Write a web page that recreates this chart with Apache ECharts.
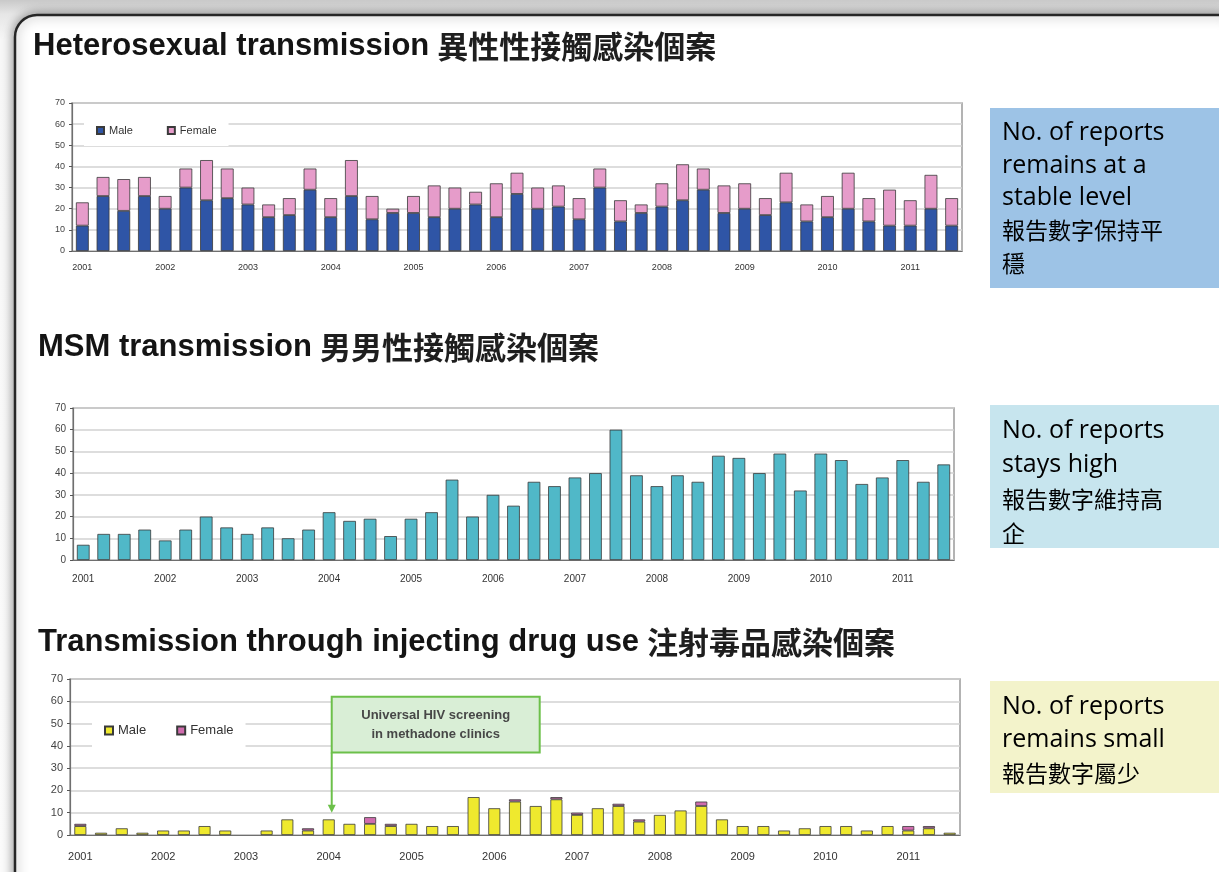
<!DOCTYPE html>
<html>
<head>
<meta charset="utf-8">
<title>HIV reports by route of transmission</title>
<script src="https://cdn.jsdelivr.net/npm/echarts@6/dist/echarts.min.js"></script>
<style>
  html, body { margin: 0; padding: 0; }
  body { background: linear-gradient(to bottom, #c9c9c9 0, #e6e6e6 14px, #f7f7f7 40px, #fbfbfb 100%); }
  #chart { width: 1219px; height: 872px; }
</style>
</head>
<body>
<div id="chart"></div>
<script>
// quarterly categories, 2001 Q1 .. 2011 Q3
const quarters = [
  '2001 Q1', '2001 Q2', '2001 Q3', '2001 Q4', '2002 Q1', '2002 Q2', '2002 Q3', '2002 Q4',
  '2003 Q1', '2003 Q2', '2003 Q3', '2003 Q4', '2004 Q1', '2004 Q2', '2004 Q3', '2004 Q4',
  '2005 Q1', '2005 Q2', '2005 Q3', '2005 Q4', '2006 Q1', '2006 Q2', '2006 Q3', '2006 Q4',
  '2007 Q1', '2007 Q2', '2007 Q3', '2007 Q4', '2008 Q1', '2008 Q2', '2008 Q3', '2008 Q4',
  '2009 Q1', '2009 Q2', '2009 Q3', '2009 Q4', '2010 Q1', '2010 Q2', '2010 Q3', '2010 Q4',
  '2011 Q1', '2011 Q2', '2011 Q3'
];

const heteroMale = [12, 26, 19, 26, 20, 30, 24, 25, 22, 16, 17, 29, 16, 26, 15, 18, 18, 16, 20, 22, 16, 27,
  20, 21, 15, 30, 14, 18, 21, 24, 29, 18, 20, 17, 23, 14, 16, 20, 14, 12, 12, 20, 12];
const heteroFemale = [11, 9, 15, 9, 6, 9, 19, 14, 8, 6, 8, 10, 9, 17, 11, 2, 8, 15, 10, 6, 16, 10,
  10, 10, 10, 9, 10, 4, 11, 17, 10, 13, 12, 8, 14, 8, 10, 17, 11, 17, 12, 16, 13];

const msm = [7, 12, 12, 14, 9, 14, 20, 15, 12, 15, 10, 14, 22, 18, 19, 11, 19, 22, 37, 20, 30, 25,
  36, 34, 38, 40, 60, 39, 34, 39, 36, 48, 47, 40, 49, 32, 49, 46, 35, 38, 46, 36, 44];

const iduMale = [4, 1, 3, 1, 2, 2, 4, 2, 0, 2, 7, 2, 7, 5, 5, 4, 5, 4, 4, 17, 12, 15,
  13, 16, 9, 12, 13, 6, 9, 11, 13, 7, 4, 4, 2, 3, 4, 4, 2, 4, 2, 3, 1];
const iduFemale = [1, 0, 0, 0, 0, 0, 0, 0, 0, 0, 0, 1, 0, 0, 3, 1, 0, 0, 0, 0, 0, 1,
  0, 1, 1, 0, 1, 1, 0, 0, 2, 0, 0, 0, 0, 0, 0, 0, 0, 0, 2, 1, 0];

// callout in the drug-use panel (anchored on axis values)
const calloutText = 'Universal HIV screening\nin methadone clinics';
const calloutFrom = '2004 Q1';
const calloutTo = '2006 Q3';
const calloutTop = 62;
const calloutBottom = 37;
const calloutTip = 10;

const legendNames = {
  'Hetero male': 'Male', 'Hetero female': 'Female',
  'IDU male': 'Male', 'IDU female': 'Female'
};

const titleRich = (en, zh) => ({
  text: '{en|' + en + '} {zh|' + zh + '}',
  textStyle: {
    rich: {
      en: { fontSize: 31, fontWeight: 'bold', color: '#141414', fontFamily: 'Liberation Sans' },
      zh: { fontSize: 31, color: '#1e1e1e', fontFamily: 'Noto Sans CJK TC', padding: [0, 0, 0, 3] }
    }
  }
});

const sideBox = (x, y, w, h, fill, enLines, zhLines, lineH) => ({
  type: 'group',
  children: [
    { type: 'rect', shape: { x: x, y: y, width: w, height: h }, style: { fill: fill } },
    {
      type: 'text', x: x + 12, y: y + 9,
      style: {
        text: enLines.map(l => '{en|' + l + '}').concat(zhLines.map(l => '{zh|' + l + '}')).join('\n'),
        rich: {
          en: { fontSize: 25, color: '#1c1c1c', fontFamily: 'Open Sans', lineHeight: lineH },
          zh: { fontSize: 23, color: '#5a5a5a', fontFamily: 'Noto Sans CJK TC', lineHeight: lineH }
        }
      }
    }
  ]
});

const panelFont = [9, 10, 11];
const grids = [
  { left: 72, top: 103, width: 890, height: 148 },
  { left: 73, top: 408, width: 881, height: 152 },
  { left: 70, top: 679, width: 890, height: 156 }
];

const chart = echarts.init(document.getElementById('chart'));

const option = {
  animation: false,
  textStyle: { fontFamily: 'Liberation Sans, Arial, sans-serif' },
  title: [
    Object.assign({ left: 28, top: 26 }, titleRich('Heterosexual transmission', '異性性接觸感染個案')),
    Object.assign({ left: 33, top: 327 }, titleRich('MSM transmission', '男男性接觸感染個案')),
    Object.assign({ left: 33, top: 622 }, titleRich('Transmission through injecting drug use', '注射毒品感染個案'))
  ],
  legend: [
    {
      data: ['Hetero male', 'Hetero female'], left: 84, top: 115,
      itemWidth: 7, itemHeight: 7, itemGap: 34, icon: 'rect',
      padding: [10, 12], backgroundColor: '#fff',
      formatter: n => legendNames[n],
      textStyle: { fontSize: 11, color: '#333' }
    },
    {
      data: ['IDU male', 'IDU female'], left: 92, top: 713,
      itemWidth: 8, itemHeight: 8, itemGap: 30, icon: 'rect',
      padding: [11, 12], backgroundColor: '#fff',
      formatter: n => legendNames[n],
      textStyle: { fontSize: 13, color: '#333' }
    }
  ],
  grid: grids.map(g => Object.assign({ show: true, borderColor: '#9a9a9a', borderWidth: 1.5 }, g)),
  xAxis: grids.map((g, i) => ({
    type: 'category', gridIndex: i, data: quarters,
    axisLine: { lineStyle: { color: '#6f6f6f', width: 1.2 } },
    axisTick: { interval: 3, length: 4, lineStyle: { color: '#555' } },
    axisLabel: {
      interval: 3, formatter: v => v.slice(0, 4),
      fontSize: panelFont[i], color: '#333', margin: 12 + i * 2
    }
  })),
  yAxis: grids.map((g, i) => ({
    type: 'value', gridIndex: i, min: 0, max: 70, interval: 10,
    axisLine: { show: true, lineStyle: { color: '#6f6f6f', width: 1.2 } },
    axisTick: { show: true, length: 3, lineStyle: { color: '#555' } },
    axisLabel: { fontSize: panelFont[i], color: '#444', margin: 7 },
    splitLine: { lineStyle: { color: '#d2d2d2', width: 1.5 } }
  })),
  series: [
    {
      name: 'Hetero male', type: 'bar', xAxisIndex: 0, yAxisIndex: 0, stack: 'hetero',
      data: heteroMale, barWidth: '62%',
      itemStyle: { color: '#2f55a6', borderColor: '#3a3a3a', borderWidth: 0.8 }
    },
    {
      name: 'Hetero female', type: 'bar', xAxisIndex: 0, yAxisIndex: 0, stack: 'hetero',
      data: heteroFemale, barWidth: '62%',
      itemStyle: { color: '#e69cca', borderColor: '#3a3a3a', borderWidth: 0.8 }
    },
    {
      name: 'MSM', type: 'bar', xAxisIndex: 1, yAxisIndex: 1,
      data: msm, barWidth: '62%',
      itemStyle: { color: '#50b8c8', borderColor: '#3a3a3a', borderWidth: 0.8 }
    },
    {
      name: 'IDU male', type: 'bar', xAxisIndex: 2, yAxisIndex: 2, stack: 'idu',
      data: iduMale.map(v => v || null), barWidth: '58%',
      itemStyle: { color: '#efe92e', borderColor: '#3a3a3a', borderWidth: 0.8 }
    },
    {
      name: 'IDU female', type: 'bar', xAxisIndex: 2, yAxisIndex: 2, stack: 'idu',
      data: iduFemale.map(v => v || null), barWidth: '58%',
      itemStyle: { color: '#d06cae', borderColor: '#3a3a3a', borderWidth: 0.8 }
    }
  ],
  graphic: [
    {
      id: 'frame', type: 'rect', z: -10, shape: { x: 15, y: 15, width: 1225, height: 900, r: 22 },
      style: { fill: '#fff', stroke: '#262626', lineWidth: 2.5, shadowBlur: 12, shadowColor: 'rgba(0,0,0,0.45)' }
    },
    Object.assign({ id: 'box1' }, sideBox(990, 108, 240, 180, '#9dc3e6',
      ['No. of reports', 'remains at a', 'stable level'], ['報告數字保持平', '穩'], 32.5)),
    Object.assign({ id: 'box2' }, sideBox(990, 405, 240, 143, '#c7e5ee',
      ['No. of reports', 'stays high'], ['報告數字維持高', '企'], 34)),
    Object.assign({ id: 'box3' }, sideBox(990, 681, 240, 112, '#f3f3cb',
      ['No. of reports', 'remains small'], ['報告數字屬少'], 33.5))
  ]
};

chart.setOption(option);

// place the callout box and arrow from the drug-use panel's own scales
const toPx = v => chart.convertToPixel({ xAxisIndex: 2, yAxisIndex: 2 }, v);
const boxA = toPx([calloutFrom, calloutTop]);
const boxB = toPx([calloutTo, calloutBottom]);
const tip = toPx([calloutFrom, calloutTip]);
const ax = boxA[0] + 3;

chart.setOption({
  graphic: [
    {
      id: 'calloutBox', type: 'rect', z: 10,
      shape: { x: ax, y: boxA[1], width: boxB[0] + 4 - ax, height: boxB[1] - boxA[1] },
      style: { fill: '#d9eed6', stroke: '#6cc04a', lineWidth: 2 }
    },
    {
      id: 'calloutText', type: 'text', z: 11,
      x: (ax + boxB[0] + 4) / 2, y: (boxA[1] + boxB[1]) / 2,
      style: {
        text: calloutText, align: 'center', verticalAlign: 'middle',
        fontSize: 13, fontWeight: 'bold', lineHeight: 19, fill: '#474747', fontFamily: 'Liberation Sans'
      }
    },
    {
      id: 'calloutLine', type: 'line', z: 10,
      shape: { x1: ax, y1: boxB[1], x2: ax, y2: tip[1] - 7 },
      style: { stroke: '#6cc04a', lineWidth: 2 }
    },
    {
      id: 'calloutHead', type: 'polygon', z: 10,
      shape: { points: [[ax - 4, tip[1] - 8], [ax + 4, tip[1] - 8], [ax, tip[1]]] },
      style: { fill: '#6cc04a' }
    }
  ]
});
</script>
</body>
</html>
